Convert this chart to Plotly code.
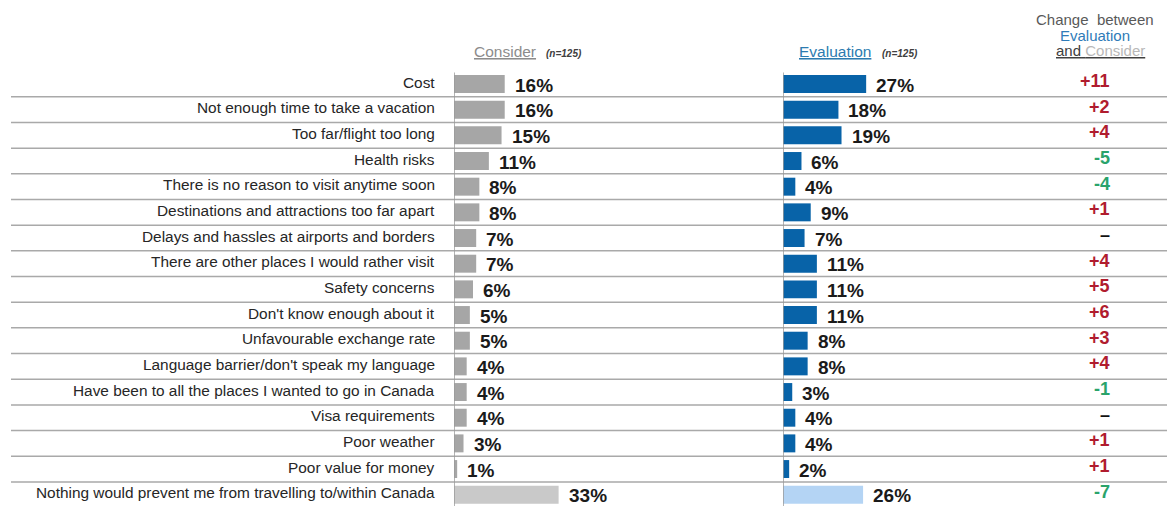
import plotly.graph_objects as go

categories = [
    "Cost",
    "Not enough time to take a vacation",
    "Too far/flight too long",
    "Health risks",
    "There is no reason to visit anytime soon",
    "Destinations and attractions too far apart",
    "Delays and hassles at airports and borders",
    "There are other places I would rather visit",
    "Safety concerns",
    "Don't know enough about it",
    "Unfavourable exchange rate",
    "Language barrier/don't speak my language",
    "Have been to all the places I wanted to go in Canada",
    "Visa requirements",
    "Poor weather",
    "Poor value for money",
    "Nothing would prevent me from travelling to/within Canada",
]
consider = [16, 16, 15, 11, 8, 8, 7, 7, 6, 5, 5, 4, 4, 4, 3, 1, 33]
evaluation = [27, 18, 19, 6, 4, 9, 7, 11, 11, 11, 8, 8, 3, 4, 4, 2, 26]
change = [e - c for e, c in zip(evaluation, consider)]

W, H = 1167, 506
n = len(categories)
row_px = 25.67
first_center = 84.0
y_top = -first_center / row_px
y_bot = (H - first_center) / row_px

GRAY = "#a6a6a6"
GRAY_LAST = "#c9c9c9"
BLUE = "#0863a8"
BLUE_LAST = "#b4d4f4"
RED = "#b01c2e"
GREEN = "#2aa36b"

c_colors = [GRAY] * (n - 1) + [GRAY_LAST]
e_colors = [BLUE] * (n - 1) + [BLUE_LAST]

fig = go.Figure()
fig.add_trace(go.Bar(
    y=categories, x=consider, orientation="h", marker=dict(color=c_colors, line=dict(width=0)),
    width=0.7, xaxis="x", yaxis="y", hoverinfo="x+y", showlegend=False,
))
fig.add_trace(go.Bar(
    y=categories, x=evaluation, orientation="h", marker=dict(color=e_colors, line=dict(width=0)),
    width=0.7, xaxis="x2", yaxis="y", hoverinfo="x+y", showlegend=False,
))

annotations = []
shapes = []
FONT = "Liberation Sans, Arial, sans-serif"

for i, cat in enumerate(categories):
    # row label
    annotations.append(dict(
        x=437 / W, xref="paper", y=cat, yref="y", text=cat, showarrow=False,
        xanchor="right", yanchor="middle", yshift=2,
        font=dict(family=FONT, size=15.4, color="#262626"),
    ))
    # consider value label
    annotations.append(dict(
        x=consider[i], xref="x", y=cat, yref="y", text=f"<b>{consider[i]}%</b>",
        showarrow=False, xanchor="left", yanchor="middle", xshift=8, yshift=-1,
        font=dict(family=FONT, size=19, color="#1a1a1a"),
    ))
    # evaluation value label
    annotations.append(dict(
        x=evaluation[i], xref="x2", y=cat, yref="y", text=f"<b>{evaluation[i]}%</b>",
        showarrow=False, xanchor="left", yanchor="middle", xshift=8, yshift=-1,
        font=dict(family=FONT, size=19, color="#1a1a1a"),
    ))
    # change column
    d = change[i]
    if d > 0:
        txt, col = f"<b>+{d}</b>", RED
    elif d < 0:
        txt, col = f"<b>{d}</b>", GREEN
    else:
        txt, col = "<b>–</b>", "#111111"
    annotations.append(dict(
        x=1112 / W, xref="paper", y=cat, yref="y", text=txt, showarrow=False,
        xanchor="right", yanchor="middle", yshift=3,
        font=dict(family=FONT, size=18, color=col),
    ))

# separator lines between rows
for i in range(n - 1):
    shapes.append(dict(
        type="line", xref="paper", yref="y", x0=11 / W, x1=1.0,
        y0=i + 0.5, y1=i + 0.5, line=dict(color="#a9a9a9", width=1.5), layer="below",
    ))
# vertical axis lines
for xr in ("x", "x2"):
    shapes.append(dict(
        type="line", xref=xr, yref="y", x0=0, x1=0, y0=-0.45, y1=n - 0.45,
        line=dict(color="#9a9a9a", width=1.5), layer="above",
    ))

# headers
annotations += [
    dict(x=472 / W, xref="paper", y=1 - 52 / H, yref="paper", xanchor="left", yanchor="middle",
         showarrow=False,
         text="<u>Consider</u>",
         font=dict(family=FONT, size=15.5, color="#8c8c8c")),
    dict(x=544 / W, xref="paper", y=1 - 53 / H, yref="paper", xanchor="left", yanchor="middle",
         showarrow=False, text="<b><i>(n=125)</i></b>",
         font=dict(family=FONT, size=10, color="#404040")),
    dict(x=797 / W, xref="paper", y=1 - 52 / H, yref="paper", xanchor="left", yanchor="middle",
         showarrow=False, text="<u>Evaluation</u>",
         font=dict(family=FONT, size=15.5, color="#2c7bb0")),
    dict(x=880 / W, xref="paper", y=1 - 53 / H, yref="paper", xanchor="left", yanchor="middle",
         showarrow=False, text="<b><i>(n=125)</i></b>",
         font=dict(family=FONT, size=10, color="#404040")),
    dict(x=1095 / W, xref="paper", y=1 - 19 / H, yref="paper", xanchor="center", yanchor="middle",
         showarrow=False, text="Change  between",
         font=dict(family=FONT, size=15, color="#595959")),
    dict(x=1095 / W, xref="paper", y=1 - 35 / H, yref="paper", xanchor="center", yanchor="middle",
         showarrow=False, text="Evaluation",
         font=dict(family=FONT, size=15, color="#2e7bb8")),
    dict(x=1100 / W, xref="paper", y=1 - 51 / H, yref="paper", xanchor="center", yanchor="middle",
         showarrow=False,
         text="<u><span style='color:#404040'>and</span> <span style='color:#b8b8b8'>Consider</span></u>",
         font=dict(family=FONT, size=15, color="#404040")),
]

fig.update_layout(
    width=W, height=H,
    margin=dict(l=0, r=0, t=0, b=0),
    paper_bgcolor="white", plot_bgcolor="white",
    bargap=0.3,
    xaxis=dict(domain=[454 / W, 760 / W], range=[0, 306 / 3.17], visible=False, fixedrange=True),
    xaxis2=dict(domain=[783 / W, 1050 / W], range=[0, 267 / 3.08], visible=False, fixedrange=True,
                anchor="y"),
    yaxis=dict(domain=[0, 1], range=[y_bot, y_top], type="category",
               categoryorder="array", categoryarray=categories,
               visible=False, fixedrange=True),
    annotations=annotations,
    shapes=shapes,
    font=dict(family=FONT),
)

fig.write_html(
    "out.html",
    config={"displayModeBar": False},
    post_script="document.body.style.margin='0';document.body.style.overflow='hidden';",
)
